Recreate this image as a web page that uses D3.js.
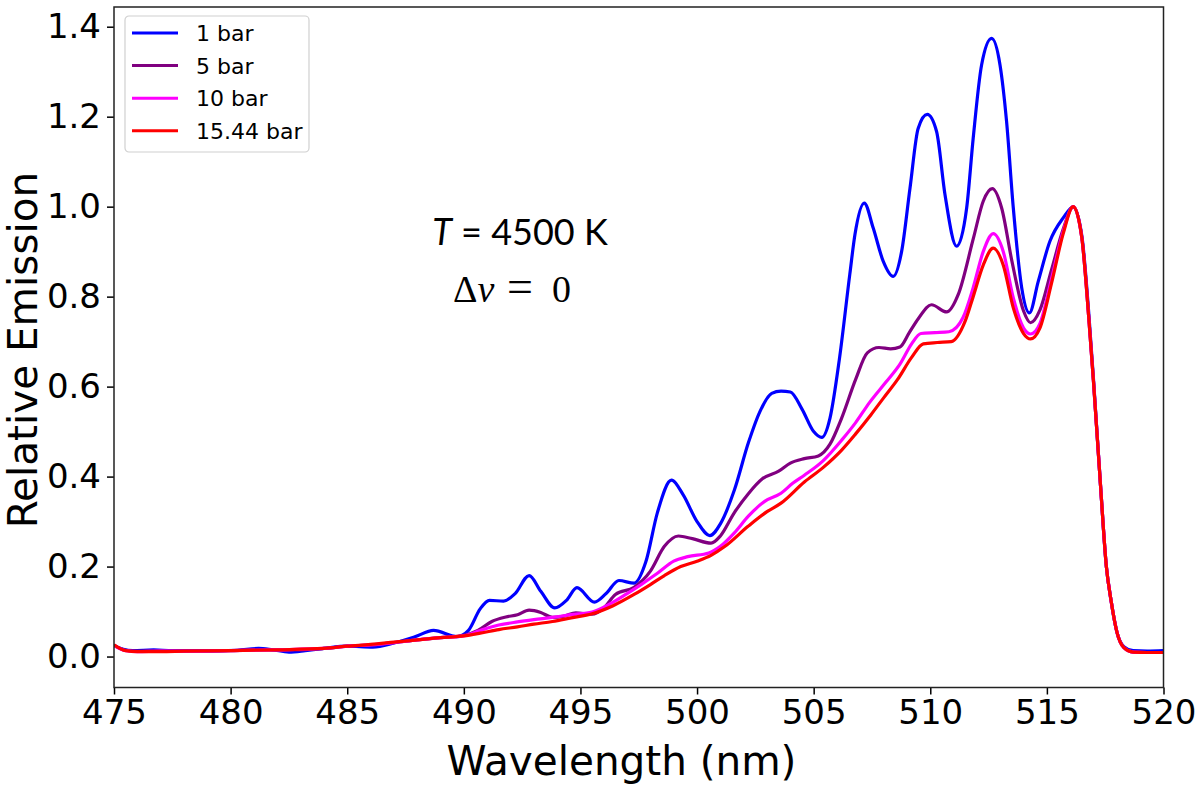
<!DOCTYPE html>
<html>
<head>
<meta charset="utf-8">
<script src="https://cdn.jsdelivr.net/npm/d3@7"></script>
<style>
  body { margin: 0; background: #fff; }
  .axis text { font-family: "DejaVu Sans", sans-serif; font-size: 34px; fill: #000; }
  .axis path, .axis line { stroke: #000; stroke-width: 1.5; }
  .label { font-family: "DejaVu Sans", sans-serif; font-size: 40.5px; fill: #000; }
  .legend text { font-family: "DejaVu Sans", sans-serif; font-size: 22px; fill: #000; }
</style>
</head>
<body>
<svg id="vis"></svg>
<script>
// wavelength (nm) / relative emission
var bar1Wl = [475.0, 475.4, 475.8, 476.7, 477.5, 478.5, 479.5, 480.3, 481.2, 481.8, 482.5, 483.2, 484.0, 485.0, 486.1, 487.0, 487.9, 488.7, 489.7, 490.2, 490.7, 491.1, 491.7, 492.2, 492.8, 493.3, 493.9, 494.4, 494.85, 495.6, 496.1, 496.65, 497.3, 497.8, 498.3, 498.9, 499.4, 500.0, 500.55, 501.0, 501.6, 502.2, 502.7, 503.2, 503.6, 504.0, 504.5, 505.0, 505.35, 505.7, 506.1, 506.55, 506.77, 507.17, 507.55, 507.98, 508.41, 508.77, 509.13, 509.48, 509.87, 510.27, 510.63, 511.13, 511.56, 511.84, 512.2, 512.63, 512.99, 513.27, 513.56, 513.92, 514.25, 514.63, 515.13, 515.7, 516.13, 516.5, 516.8, 517.0, 517.3, 517.55, 517.75, 518.0, 518.3, 518.7, 519.3, 520.0];
var bar1Val = [0.025, 0.016, 0.013, 0.015, 0.013, 0.013, 0.013, 0.014, 0.018, 0.015, 0.010, 0.013, 0.018, 0.023, 0.021, 0.030, 0.044, 0.058, 0.044, 0.058, 0.106, 0.125, 0.123, 0.140, 0.180, 0.145, 0.108, 0.125, 0.153, 0.121, 0.140, 0.169, 0.163, 0.210, 0.320, 0.392, 0.360, 0.300, 0.269, 0.295, 0.370, 0.475, 0.545, 0.585, 0.590, 0.588, 0.550, 0.500, 0.487, 0.530, 0.660, 0.850, 0.938, 1.008, 0.953, 0.879, 0.845, 0.900, 1.041, 1.174, 1.205, 1.167, 1.027, 0.912, 0.997, 1.152, 1.315, 1.374, 1.315, 1.190, 0.997, 0.820, 0.764, 0.834, 0.923, 0.975, 0.999, 0.935, 0.760, 0.615, 0.380, 0.200, 0.125, 0.055, 0.022, 0.013, 0.012, 0.013];

var bar5Wl = [475.0, 475.5, 476.0, 477.0, 478.0, 479.0, 480.0, 481.0, 482.0, 483.0, 484.0, 485.0, 486.0, 487.0, 488.0, 489.0, 490.0, 490.6, 491.2, 491.8, 492.3, 492.8, 493.3, 493.8, 494.3, 494.8, 495.5, 496.0, 496.5, 497.3, 498.0, 498.6, 499.2, 499.8, 500.6, 501.0, 501.6, 502.2, 502.8, 503.5, 504.0, 504.6, 505.2, 505.7, 506.2, 506.8, 507.3, 507.8, 508.3, 508.7, 509.1, 509.5, 510.05, 510.7, 511.2, 511.85, 512.27, 512.66, 513.06, 513.5, 514.0, 514.3, 514.7, 515.2, 515.7, 516.13, 516.5, 516.8, 517.0, 517.3, 517.55, 517.75, 518.0, 518.3, 518.7, 519.3, 520.0];
var bar5Val = [0.025, 0.014, 0.012, 0.013, 0.012, 0.012, 0.013, 0.015, 0.015, 0.015, 0.018, 0.023, 0.026, 0.031, 0.037, 0.042, 0.047, 0.058, 0.078, 0.088, 0.093, 0.103, 0.098, 0.087, 0.090, 0.097, 0.094, 0.108, 0.138, 0.154, 0.190, 0.245, 0.268, 0.262, 0.252, 0.268, 0.320, 0.362, 0.395, 0.412, 0.430, 0.440, 0.446, 0.472, 0.530, 0.616, 0.675, 0.687, 0.684, 0.688, 0.720, 0.752, 0.782, 0.766, 0.805, 0.930, 1.012, 1.040, 0.997, 0.879, 0.768, 0.742, 0.770, 0.860, 0.950, 1.000, 0.930, 0.750, 0.610, 0.380, 0.200, 0.125, 0.055, 0.020, 0.010, 0.009, 0.009];

var bar10Wl = [475.0, 475.5, 476.0, 477.0, 478.0, 480.0, 482.0, 484.0, 485.0, 486.0, 487.0, 488.0, 489.0, 490.0, 490.7, 491.5, 492.3, 493.0, 493.8, 494.6, 495.5, 496.3, 497.0, 497.6, 498.3, 499.0, 499.6, 500.5, 501.0, 501.6, 502.2, 502.9, 503.6, 504.1, 504.6, 505.4, 506.2, 506.8, 507.4, 508.1, 508.7, 509.2, 509.6, 510.2, 510.8, 511.4, 511.84, 512.27, 512.7, 513.13, 513.56, 514.0, 514.3, 514.7, 515.2, 515.7, 516.13, 516.5, 516.8, 517.0, 517.3, 517.55, 517.75, 518.0, 518.3, 518.7, 519.3, 520.0];
var bar10Val = [0.025, 0.013, 0.011, 0.012, 0.012, 0.013, 0.015, 0.018, 0.023, 0.026, 0.031, 0.037, 0.042, 0.046, 0.058, 0.070, 0.077, 0.082, 0.087, 0.093, 0.099, 0.118, 0.140, 0.160, 0.185, 0.212, 0.222, 0.230, 0.245, 0.275, 0.312, 0.345, 0.363, 0.385, 0.403, 0.435, 0.481, 0.520, 0.565, 0.610, 0.650, 0.695, 0.718, 0.720, 0.722, 0.753, 0.820, 0.900, 0.940, 0.900, 0.797, 0.730, 0.717, 0.740, 0.840, 0.945, 1.000, 0.930, 0.750, 0.610, 0.380, 0.200, 0.125, 0.055, 0.020, 0.010, 0.009, 0.009];

var bar15Wl = [475.0, 475.5, 476.0, 477.0, 478.0, 480.0, 482.0, 484.0, 485.0, 486.0, 487.0, 488.0, 489.0, 490.0, 490.7, 491.5, 492.3, 493.0, 493.8, 494.6, 495.5, 496.4, 497.3, 498.0, 498.6, 499.3, 500.0, 500.6, 501.2, 502.2, 503.0, 503.6, 504.6, 505.4, 506.2, 506.8, 507.45, 508.0, 508.6, 509.2, 509.7, 510.3, 510.9, 511.5, 511.84, 512.27, 512.7, 513.13, 513.56, 514.0, 514.3, 514.7, 515.2, 515.7, 516.13, 516.5, 516.8, 517.0, 517.3, 517.55, 517.75, 518.0, 518.3, 518.7, 519.3, 520.0];
var bar15Val = [0.026, 0.013, 0.011, 0.011, 0.012, 0.013, 0.015, 0.018, 0.023, 0.027, 0.032, 0.037, 0.042, 0.046, 0.052, 0.060, 0.066, 0.072, 0.078, 0.086, 0.095, 0.113, 0.138, 0.160, 0.180, 0.200, 0.212, 0.225, 0.245, 0.290, 0.322, 0.341, 0.388, 0.420, 0.459, 0.495, 0.537, 0.575, 0.616, 0.665, 0.695, 0.698, 0.700, 0.746, 0.800, 0.870, 0.908, 0.870, 0.775, 0.718, 0.706, 0.730, 0.830, 0.940, 1.000, 0.930, 0.750, 0.610, 0.380, 0.200, 0.125, 0.055, 0.020, 0.010, 0.009, 0.009];

var seriesNames = ["1 bar", "5 bar", "10 bar", "15.44 bar"];
var seriesColors = ["#0000ff", "#800080", "#ff00ff", "#ff0000"];
var seriesWl = [bar1Wl, bar5Wl, bar10Wl, bar15Wl];
var seriesVal = [bar1Val, bar5Val, bar10Val, bar15Val];

var xTicks = [475, 480, 485, 490, 495, 500, 505, 510, 515, 520];
var yTicks = [0.0, 0.2, 0.4, 0.6, 0.8, 1.0, 1.2, 1.4];

var margin = {top: 7, right: 36.5, bottom: 101.5, left: 114},
    width = 1200 - margin.left - margin.right,
    height = 789 - margin.top - margin.bottom;

var svg = d3.select("#vis")
    .attr("width", 1200)
    .attr("height", 789)
    .append("g")
    .attr("transform", "translate(" + margin.left + "," + margin.top + ")");

var xScale = d3.scaleLinear().domain([475, 520]).range([0, width]);
var yScale = d3.scaleLinear().domain([-0.0688, 1.4438]).range([height, 0]);

var xAxis = d3.axisBottom(xScale).tickValues(xTicks).tickSize(7).tickPadding(5)
    .tickFormat(d3.format("d"));
var yAxis = d3.axisLeft(yScale).tickValues(yTicks).tickSize(7).tickPadding(6)
    .tickFormat(d3.format(".1f"));

svg.append("g")
    .attr("class", "x axis")
    .attr("transform", "translate(0," + height + ")")
    .call(xAxis)
    .select(".domain").remove();

svg.append("g")
    .attr("class", "y axis")
    .call(yAxis)
    .select(".domain").remove();

var line = d3.line()
    .x(function (d) { return xScale(d[0]); })
    .y(function (d) { return yScale(d[1]); })
    .curve(d3.curveMonotoneX);

svg.append("clipPath").attr("id", "clip")
    .append("rect").attr("width", width).attr("height", height);

seriesNames.forEach(function (name, i) {
    var pts = seriesWl[i].map(function (w, j) { return [w, seriesVal[i][j]]; });
    svg.append("path")
        .datum(pts)
        .attr("clip-path", "url(#clip)")
        .attr("fill", "none")
        .attr("stroke", seriesColors[i])
        .attr("stroke-width", 3.2)
        .attr("stroke-linejoin", "round")
        .attr("d", line);
});

// frame
svg.append("rect")
    .attr("width", width)
    .attr("height", height)
    .attr("fill", "none")
    .attr("stroke", "#222")
    .attr("stroke-width", 1.5);

// axis labels
svg.append("text")
    .attr("class", "label")
    .attr("x", 621.5 - margin.left)
    .attr("y", 775 - margin.top)
    .style("text-anchor", "middle")
    .text("Wavelength (nm)");

svg.append("text")
    .attr("class", "label")
    .attr("transform", "translate(" + (37 - margin.left) + "," + (350 - margin.top) + ") rotate(-90)")
    .style("text-anchor", "middle")
    .text("Relative Emission");

// annotation
var note = svg.append("text")
    .attr("x", 520 - margin.left)
    .attr("y", 245 - margin.top)
    .style("text-anchor", "middle")
    .style("font-family", "Lato, sans-serif")
    .style("font-size", "36px");
note.append("tspan").style("font-style", "italic").text("T");
note.append("tspan").text(" = 4500 K");

var note2 = svg.append("g")
    .style("font-family", "'Liberation Serif', serif")
    .style("font-size", "38px");
note2.append("text")
    .attr("x", 453 - margin.left).attr("y", 302 - margin.top)
    .text("Δ")
    .append("tspan").style("font-style", "italic").text("ν");
note2.append("text")
    .attr("x", 507 - margin.left).attr("y", 302 - margin.top)
    .style("font-size", "46px")
    .text("=");
note2.append("text")
    .attr("x", 552 - margin.left).attr("y", 302 - margin.top)
    .text("0");

// legend
var legend = svg.append("g")
    .attr("class", "legend")
    .attr("transform", "translate(" + (125 - margin.left) + "," + (16 - margin.top) + ")");

legend.append("rect")
    .attr("width", 184)
    .attr("height", 136)
    .attr("rx", 4)
    .attr("fill", "#fff")
    .attr("fill-opacity", 0.8)
    .attr("stroke", "#d0d0d0")
    .attr("stroke-width", 1.2);

var item = legend.selectAll(".item")
    .data(seriesNames)
    .enter().append("g")
    .attr("class", "item")
    .attr("transform", function (d, i) {
        return "translate(0," + (17 + i * 32.6) + ")";
    });

item.append("line")
    .attr("x1", 7).attr("x2", 53)
    .attr("stroke", function (d, i) { return seriesColors[i]; })
    .attr("stroke-width", 3);

item.append("text")
    .attr("x", 71)
    .attr("y", 8)
    .text(function (d) { return d; });
</script>
</body>
</html>
